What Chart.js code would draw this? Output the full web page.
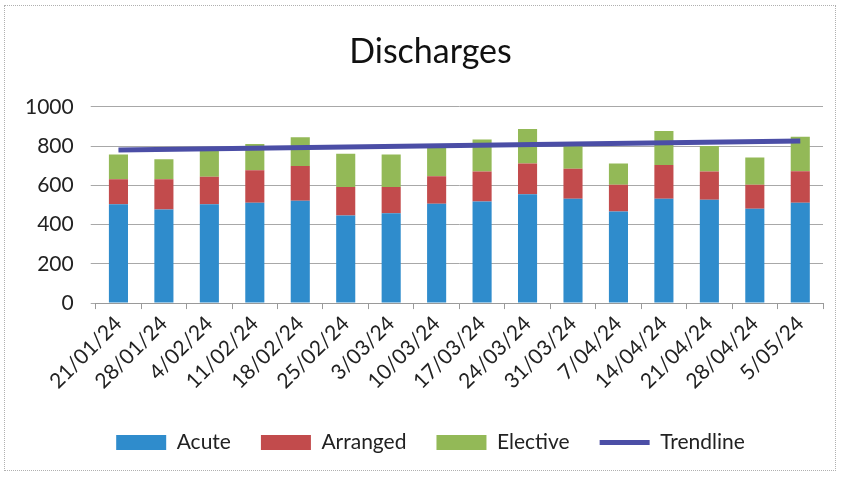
<!DOCTYPE html>
<html>
<head>
<meta charset="utf-8">
<script src="https://cdn.jsdelivr.net/npm/chart.js@4/dist/chart.umd.min.js"></script>
<style>
  html, body { margin: 0; padding: 0; background: #fff; }
  #frame {
    position: absolute; left: 4px; top: 5px; width: 832px; height: 466px;
    border: 1px dotted #b0b0b0; box-sizing: border-box;
  }
  #wrap { position: absolute; left: 0; top: 0; width: 841px; height: 477px; }
</style>
</head>
<body>
<div id="frame"></div>
<div id="wrap"><canvas id="c" width="841" height="477"></canvas></div>
<script>
// Weekly discharges by admission type
const weeks = ['21/01/24','28/01/24','4/02/24','11/02/24','18/02/24','25/02/24','3/03/24','10/03/24',
               '17/03/24','24/03/24','31/03/24','7/04/24','14/04/24','21/04/24','28/04/24','5/05/24'];
const acute    = [503, 477, 503, 511, 521, 446, 458, 506, 518, 554, 532, 467, 532, 527, 480, 511];
const arranged = [128, 154, 140, 166, 178, 145, 133, 140, 152, 157, 152, 136, 171, 143, 123, 161];
const elective = [126, 102, 132, 133, 146, 170, 166, 144, 164, 176, 116, 108, 174, 130, 139, 176];
// Linear trend: start and end values, straight segment between
const trendline = [780, null, null, null, null, null, null, null, null, null, null, null, null, null, null, 826];
const yTicks = [0, 200, 400, 600, 800, 1000];

const FONT = 'Lato, "Open Sans", sans-serif';
const TREND_COLOR = '#4b4ea6';

// Centre title and legend on the whole frame rather than the padded area
const centreBlocks = {
  id: 'centreBlocks',
  afterLayout(chart) {
    [chart.titleBlock, chart.legend].forEach(b => {
      if (b) { b.left += 8; b.right += 8; }
    });
  }
};

new Chart(document.getElementById('c'), {
  type: 'bar',
  data: {
    labels: weeks,
    datasets: [
      { type: 'line', label: 'Trendline', data: trendline, borderColor: TREND_COLOR, backgroundColor: TREND_COLOR,
        borderWidth: 5, pointRadius: 0, spanGaps: true, order: 0, stack: 'trend' },
      { label: 'Acute', data: acute, backgroundColor: '#2f8ccc', stack: 's', order: 1 },
      { label: 'Arranged', data: arranged, backgroundColor: '#c24b4c', stack: 's', order: 1 },
      { label: 'Elective', data: elective, backgroundColor: '#93b957', stack: 's', order: 1 }
    ]
  },
  plugins: [centreBlocks],
  options: {
    responsive: false,
    animation: false,
    layout: { padding: { left: 22, right: 18, top: 10, bottom: 14 } },
    datasets: { bar: { categoryPercentage: 1.0, barPercentage: 0.42 } },
    scales: {
      x: {
        stacked: true,
        grid: { drawOnChartArea: false, color: '#9a9a9a', tickLength: 6 },
        border: { color: '#9a9a9a' },
        ticks: { color: '#222', padding: 2, font: { family: FONT, size: 21 }, minRotation: 45, maxRotation: 45, autoSkip: false },
        afterFit: (s) => { s.height += 6; }
      },
      y: {
        stacked: true,
        min: 0, max: 1000,
        afterBuildTicks: (s) => { s.ticks = yTicks.map(v => ({ value: v })); },
        grid: { color: '#a8a8a8', tickLength: 5, tickColor: '#a8a8a8' },
        border: { display: false },
        ticks: { color: '#222', padding: 17, font: { family: FONT, size: 21 }, callback: (v) => String(v) },
        afterFit: (s) => { s.width -= 14; }
      }
    },
    plugins: {
      title: { display: true, text: 'Discharges', color: '#111', font: { family: FONT, size: 34, weight: 'normal' },
               padding: { top: 22, bottom: 34 } },
      tooltip: { enabled: false },
      legend: {
        position: 'bottom',
        maxHeight: 64,
        labels: {
          color: '#222', font: { family: FONT, size: 21 },
          usePointStyle: true, pointStyleWidth: 50, boxWidth: 50, boxHeight: 15, padding: 30,
          sort: (a, b) => (a.datasetIndex === 0) - (b.datasetIndex === 0),
          generateLabels: (chart) => {
            const items = Chart.defaults.plugins.legend.labels.generateLabels(chart);
            items.forEach(it => {
              const isLine = it.datasetIndex === 0;
              it.pointStyle = isLine ? 'line' : 'rect';
              it.lineWidth = isLine ? 5 : 0;
              it.strokeStyle = isLine ? TREND_COLOR : it.fillStyle;
            });
            return items;
          }
        }
      }
    }
  }
});
</script>
</body>
</html>
